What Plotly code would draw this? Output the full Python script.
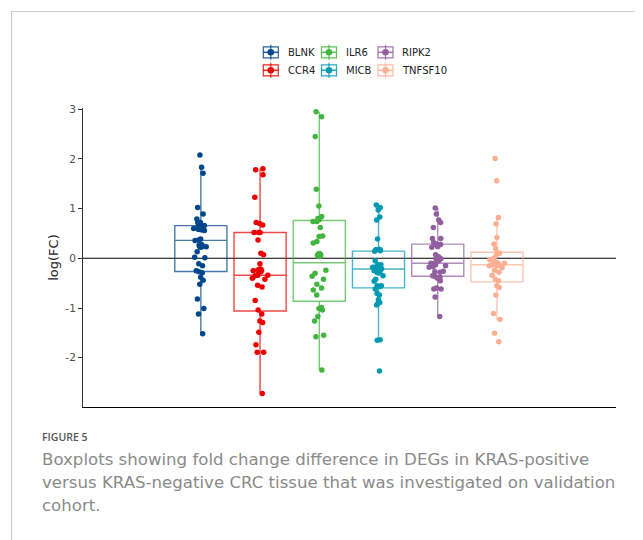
import plotly.graph_objects as go
import numpy as np

# ---------------- data ----------------
genes = ["BLNK", "CCR4", "ILR6", "MICB", "RIPK2", "TNFSF10"]
colors = ["#00468B", "#ED0000", "#42B540", "#0099B4", "#925E9F", "#FDAF91"]

BLNK = [2.08, 1.83, 1.71, 1.02, 0.89, 0.79, 0.72, 0.72, 0.66, 0.65, 0.62, 0.60, 0.58, 0.57,
        0.56, 0.39, 0.37, 0.36, 0.27, 0.23, 0.13, 0.02, 0.01, -0.11, -0.15, -0.25, -0.27,
        -0.29, -0.38, -0.44, -0.52, -0.82, -1.01, -1.12, -1.52]
CCR4 = [1.80, 1.78, 1.68, 1.23, 0.72, 0.70, 0.67, 0.52, 0.52, 0.52, 0.37, 0.10, 0.07, -0.11,
        -0.24, -0.25, -0.34, -0.34, -0.35, -0.40, -0.42, -0.54, -0.58, -0.85, -1.04, -1.12,
        -1.26, -1.29, -1.49, -1.74, -1.89, -1.89, -2.72]
ILR6 = [2.95, 2.85, 2.45, 1.39, 1.05, 0.84, 0.80, 0.78, 0.74, 0.74, 0.62, 0.45, 0.44, 0.34,
        0.31, 0.06, -0.24, -0.30, -0.36, -0.42, -0.52, -0.60, -0.64, -0.74, -0.99, -1.01,
        -1.04, -1.17, -1.26, -1.55, -1.58, -2.25]
MICB = [1.07, 1.02, 0.97, 0.83, 0.77, 0.39, 0.18, 0.17, 0.17, 0.15, 0.14, -0.05, -0.13,
        -0.13, -0.15, -0.17, -0.18, -0.19, -0.20, -0.21, -0.22, -0.24, -0.25, -0.28, -0.35,
        -0.42, -0.46, -0.55, -0.55, -0.57, -0.62, -0.71, -0.74, -0.83, -0.89, -0.91, -0.94,
        -1.64, -1.65, -2.27]
RIPK2 = [1.01, 0.89, 0.77, 0.72, 0.62, 0.40, 0.40, 0.32, 0.29, 0.28, 0.28, 0.23, 0.22, 0.07,
         0.03, -0.01, -0.03, -0.10, -0.10, -0.13, -0.15, -0.17, -0.18, -0.26, -0.27, -0.28,
         -0.35, -0.37, -0.38, -0.40, -0.45, -0.60, -0.62, -0.62, -0.78, -1.17]
TNFSF10 = [2.01, 1.56, 0.82, 0.69, 0.42, 0.29, 0.19, 0.10, 0.10, 0.08, 0.01, -0.03, -0.07,
           -0.10, -0.13, -0.15, -0.19, -0.24, -0.28, -0.34, -0.42, -0.45, -0.55, -0.59,
           -0.74, -1.11, -1.23, -1.51, -1.68]
values = [BLNK, CCR4, ILR6, MICB, RIPK2, TNFSF10]

y_ticks = [-2, -1, 0, 1, 2, 3]
y_label = "log(FC)"
caption_title = "FIGURE 5"
caption_lines = [
    "Boxplots showing fold change difference in DEGs in KRAS-positive",
    "versus KRAS-negative CRC tissue that was investigated on validation",
    "cohort.",
]
legend_rows = [["BLNK", "ILR6", "RIPK2"], ["CCR4", "MICB", "TNFSF10"]]

# ---------------- layout geometry (screen pixels) ----------------
OX, OY = 8, 8                 # default page body margin
SW, SH = 643, 540
W, H = SW - OX, SH - OY
L, R, T, B = 83, 616, 108, 407
PW, PH = R - L, B - T


def px(x):
    return (x - L) / PW


def py(y):
    return (B - y) / PH


def rgba(hexc, a):
    h = hexc.lstrip("#")
    r, g, b = int(h[0:2], 16), int(h[2:4], 16), int(h[4:6], 16)
    return f"rgba({r},{g},{b},{a})"


fig = go.Figure()
for g, c, v in zip(genes, colors, values):
    fig.add_trace(go.Box(
        x=[g] * len(v), y=v, name=g,
        boxpoints="all", jitter=0.34, pointpos=0, width=0.88, whiskerwidth=0,
        fillcolor="rgba(0,0,0,0)",
        line=dict(color=rgba(c, 0.72), width=1.4),
        marker=dict(color=c, size=5.5, opacity=1),
        showlegend=False, hoverinfo="y",
    ))
for g, c, v in zip(genes, colors, values):
    fig.add_trace(go.Scatter(
        x=[g], y=[float(np.mean(v))], mode="markers",
        marker=dict(color=c, size=8.5), showlegend=False, hoverinfo="y",
    ))

shapes = []
annotations = []
# zero reference line
shapes.append(dict(type="line", xref="paper", yref="y", x0=0, x1=1, y0=0, y1=0,
                   line=dict(color="black", width=1.1), layer="below"))
# outer card frame
shapes.append(dict(type="rect", xref="paper", yref="paper",
                   x0=px(11.5), x1=px(700), y0=py(11.5), y1=py(600),
                   line=dict(color="#cccccc", width=1.2), layer="below"))

# custom legend
color_of = dict(zip(genes, colors))
col_icon_x = [270.8, 329.0, 385.5]
col_text_x = [286.0, 344.0, 400.0]
row_y = [52.3, 70.3]
for ri, row in enumerate(legend_rows):
    for ci, g in enumerate(row):
        c = color_of[g]
        cx, cy = col_icon_x[ci], row_y[ri]
        lc = rgba(c, 0.85)
        shapes.append(dict(type="line", xref="paper", yref="paper",
                           x0=px(cx), x1=px(cx), y0=py(cy - 7.5), y1=py(cy + 7.5),
                           line=dict(color=lc, width=1.2)))
        shapes.append(dict(type="rect", xref="paper", yref="paper",
                           x0=px(cx - 7.5), x1=px(cx + 7.5), y0=py(cy - 5.5), y1=py(cy + 5.5),
                           line=dict(color=lc, width=1.2), fillcolor="white"))
        shapes.append(dict(type="line", xref="paper", yref="paper",
                           x0=px(cx - 7.5), x1=px(cx + 7.5), y0=py(cy), y1=py(cy),
                           line=dict(color=lc, width=1.6)))
        shapes.append(dict(type="line", xref="paper", yref="paper",
                           x0=px(cx), x1=px(cx), y0=py(cy - 5.5), y1=py(cy + 5.5),
                           line=dict(color=lc, width=1.2)))
        shapes.append(dict(type="circle", xref="paper", yref="paper",
                           x0=px(cx - 3.3), x1=px(cx + 3.3), y0=py(cy - 3.3), y1=py(cy + 3.3),
                           line=dict(color=c, width=0), fillcolor=c))
        annotations.append(dict(xref="paper", yref="paper", x=px(col_text_x[ci]), y=py(cy),
                                xanchor="left", yanchor="middle", showarrow=False, text=g,
                                font=dict(family="DejaVu Sans", size=10, color="#222222")))

# caption
annotations.append(dict(xref="paper", yref="paper", x=px(40), y=py(437),
                        xanchor="left", yanchor="middle", showarrow=False,
                        text=caption_title,
                        font=dict(family="Open Sans", size=10.5, color="#555555", weight=600)))
for i, line in enumerate(caption_lines):
    annotations.append(dict(xref="paper", yref="paper", x=px(40), y=py(459.5 + 23 * i),
                            xanchor="left", yanchor="middle", showarrow=False, text=line,
                            font=dict(family="DejaVu Sans", size=16.6, color="#8a8a8a")))

fig.update_layout(
    width=W, height=H,
    margin=dict(l=L - OX, r=SW - R, t=T - OY, b=SH - B, pad=0),
    paper_bgcolor="white", plot_bgcolor="white",
    showlegend=False,
    shapes=shapes, annotations=annotations,
    font=dict(family="DejaVu Sans"),
    xaxis=dict(type="category", categoryorder="array", categoryarray=genes,
               range=[-1.99, 7.01], showline=True, linecolor="black", linewidth=1.1,
               showticklabels=False, ticks="", showgrid=False, zeroline=False),
    yaxis=dict(range=[-2.992, 3.024], tickvals=y_ticks, ticktext=[str(t) for t in y_ticks],
               showline=True, linecolor="#333333", linewidth=1.1, ticks="outside",
               ticklen=4, tickcolor="#333333", tickwidth=1, showgrid=False, zeroline=False,
               tickfont=dict(family="DejaVu Sans", size=10.5, color="#4d4d4d"),
               title=dict(text=y_label, standoff=3,
                          font=dict(family="DejaVu Sans", size=13, color="#222222"))),
)

fig.write_html("out.html")
